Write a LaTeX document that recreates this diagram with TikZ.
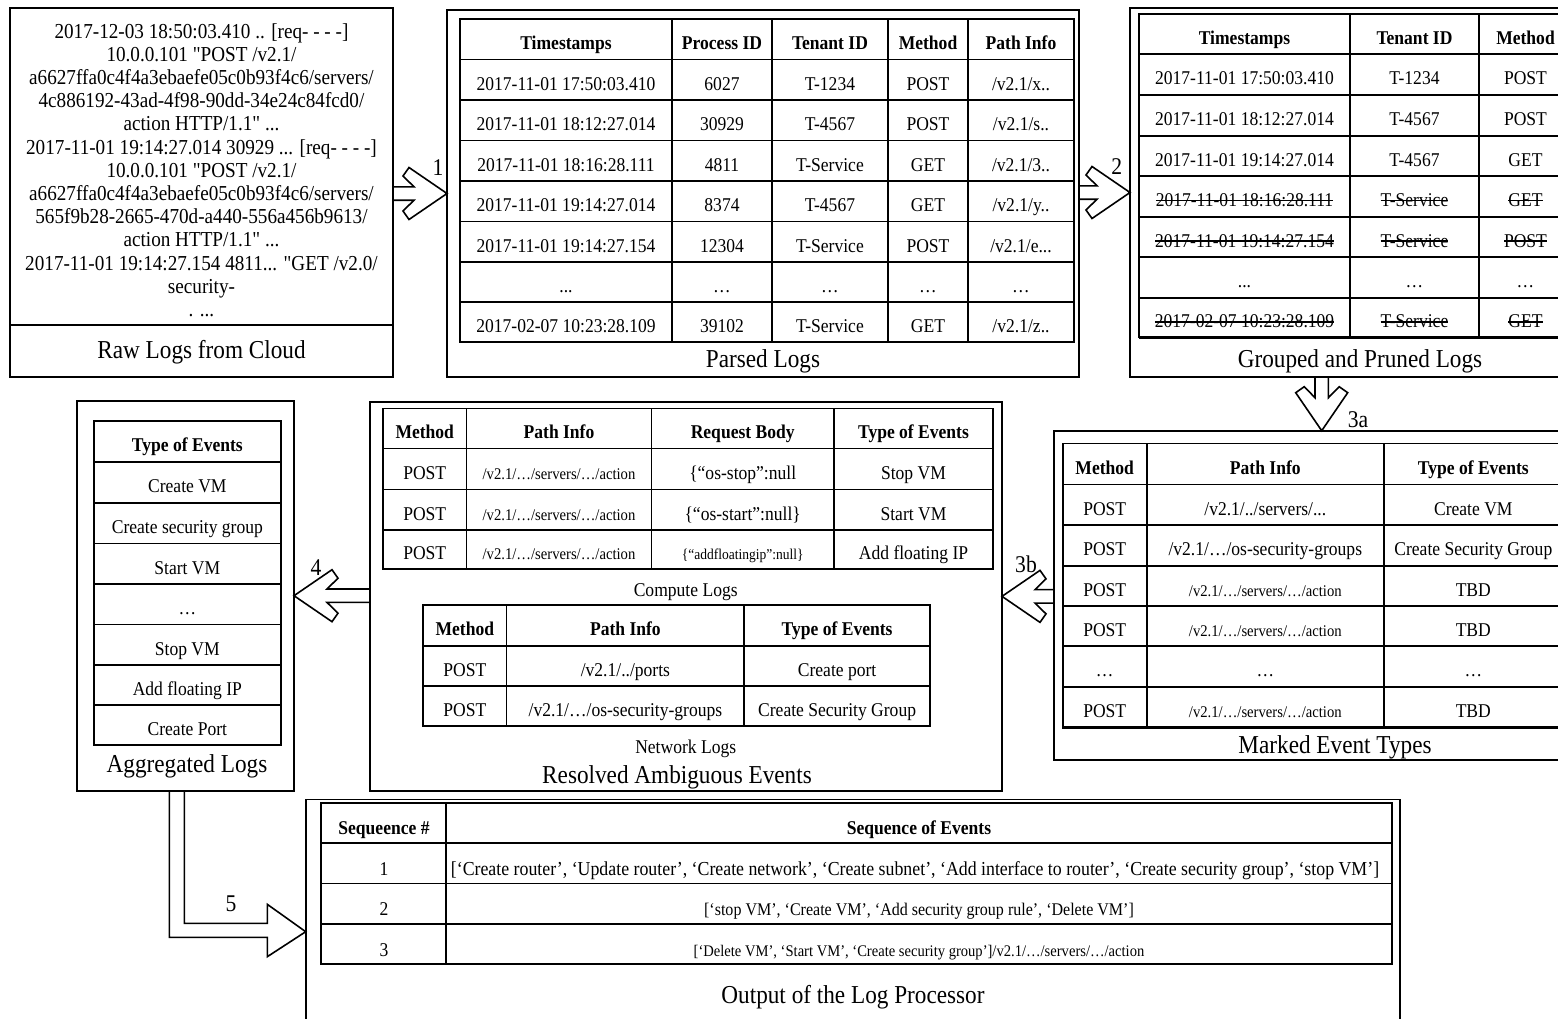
\documentclass[tikz,border=0pt]{standalone}
\usepackage{fontspec}
\setmainfont{Liberation Serif}[FakeStretch=0.9]
\newfontfamily\rawfont{Liberation Serif}[FakeStretch=0.9]
\usetikzlibrary{calc}
\newsavebox\strkbox
\newcommand{\strk}[1]{\sbox\strkbox{#1}\rlap{\rule[0.27em]{\wd\strkbox}{1.3pt}}\usebox\strkbox}
\newcommand{\smt}{\fontsize{16.3}{18}\selectfont}
\newcommand{\tnt}{\fontsize{15}{17}\selectfont}
\tikzset{
  boxnode/.style={draw, line width=1.6pt, inner sep=0pt, outer sep=0pt},
  gline/.style={line width=1.6pt},
  bline/.style={line width=2.6pt},
  cell/.style={font=\fontsize{19.5}{22}\selectfont, inner sep=0pt, text height=14.6pt, text depth=2.9pt, yshift=-4.5pt},
  hd/.style={cell, font=\fontsize{19.5}{22}\selectfont\bfseries},
  rawtxt/.style={font=\rawfont\fontsize{21.3}{24}\selectfont, inner sep=0pt, text height=16pt, text depth=3.2pt},
  captxt/.style={font=\fontsize{25.8}{28}\selectfont, inner sep=0pt, text height=19.4pt, text depth=3.9pt},
  lbl/.style={font=\fontsize{24}{26}\selectfont, inner sep=0pt},
  arrline/.style={line width=1.6pt, line join=miter},
}
\newcommand{\chev}[3]{\draw[arrline, shift={#1}, rotate=#2] (-#3,6.7) -- (-33,6.7) -- (-44,17.5) -- (-38,26) -- (0,0) -- (-38,-26) -- (-44,-17.5) -- (-33,-6.7) -- (-#3,-6.7);}
\newcommand{\rawline}[2]{\node[rawtxt] (rl-#1) at (201.5,{31.7+(#1-1)*23.2}) {#2};}
\newcommand{\plrow}[8]{%
  \node[#1] (pl-#2-1) at (566,#3) {#4};
  \node[#1] (pl-#2-2) at (722,#3) {#5};
  \node[#1] (pl-#2-3) at (830,#3) {#6};
  \node[#1] (pl-#2-4) at (928,#3) {#7};
  \node[#1] (pl-#2-5) at (1021,#3) {#8};}
\newcommand{\glrow}[6]{%
  \node[#1] (gl-#2-1) at (1244.5,#3) {#4};
  \node[#1] (gl-#2-2) at (1414.5,#3) {#5};
  \node[#1] (gl-#2-3) at (1525.5,#3) {#6};}
\newcommand{\merow}[6]{%
  \node[#1] (me-#2-1) at (1104.7,#3) {#4};
  \node[#1] (me-#2-2) at (1265.3,#3) {#5};
  \node[#1] (me-#2-3) at (1473.3,#3) {#6};}
\newcommand{\carow}[7]{%
  \node[#1] (ca-#2-1) at (424.75,#3) {#4};
  \node[#1] (ca-#2-2) at (559,#3) {#5};
  \node[#1] (ca-#2-3) at (742.7,#3) {#6};
  \node[#1] (ca-#2-4) at (913.5,#3) {#7};}
\newcommand{\narow}[6]{%
  \node[#1] (na-#2-1) at (464.8,#3) {#4};
  \node[#1] (na-#2-2) at (625.4,#3) {#5};
  \node[#1] (na-#2-3) at (837.1,#3) {#6};}
\newcommand{\agrow}[4]{\node[#1] (ag-#2) at (187.35,#3) {#4};}
\begin{document}
\begin{tikzpicture}[x=1pt,y=-1pt]
\useasboundingbox (0,0) rectangle (1558,1018);
\clip (0,0) rectangle (1558,1018);

% ---------- Raw logs ----------
\node[boxnode, anchor=north west, minimum width=383pt, minimum height=369pt] (rl) at (10,8) {};
\draw[gline] (10,325) -- (393,325);
\rawline{1}{2017-12-03 18:50:03.410 .. [req- - - -]}
\rawline{2}{10.0.0.101 "POST /v2.1/}
\rawline{3}{a6627ffa0c4f4a3ebaefe05c0b93f4c6/servers/}
\rawline{4}{4c886192-43ad-4f98-90dd-34e24c84fcd0/}
\rawline{5}{action HTTP/1.1" ...}
\rawline{6}{2017-11-01 19:14:27.014 30929 ... [req- - - -]}
\rawline{7}{10.0.0.101 "POST /v2.1/}
\rawline{8}{a6627ffa0c4f4a3ebaefe05c0b93f4c6/servers/}
\rawline{9}{565f9b28-2665-470d-a440-556a456b9613/}
\rawline{10}{action HTTP/1.1" ...}
\rawline{11}{2017-11-01 19:14:27.154 4811... "GET /v2.0/}
\rawline{12}{security-}
\rawline{13}{. ...}
\node[captxt] (rl-cap) at (201.5,351) {Raw Logs from Cloud};

% ---------- Parsed logs ----------
\node[boxnode, anchor=north west, minimum width=632pt, minimum height=367pt] (pl) at (447,10) {};
\draw[gline] (460,19) rectangle (1074,342);
\foreach \x in {672,772,888,968} \draw[gline] (\x,19) -- (\x,342);
\foreach \y in {59.5,100,140.5,181,221.5,262,302} \draw[gline] (460,\y) -- (1074,\y);
\draw[bline] (460,342) -- (1074,342);
\plrow{hd}{0}{39.25}{Timestamps}{Process ID}{Tenant ID}{Method}{Path Info}
\plrow{cell}{1}{79.75}{2017-11-01 17:50:03.410}{6027}{T-1234}{POST}{/v2.1/x..}
\plrow{cell}{2}{120.25}{2017-11-01 18:12:27.014}{30929}{T-4567}{POST}{/v2.1/s..}
\plrow{cell}{3}{160.75}{2017-11-01 18:16:28.111}{4811}{T-Service}{GET}{/v2.1/3..}
\plrow{cell}{4}{201.25}{2017-11-01 19:14:27.014}{8374}{T-4567}{GET}{/v2.1/y..}
\plrow{cell}{5}{241.75}{2017-11-01 19:14:27.154}{12304}{T-Service}{POST}{/v2.1/e...}
\plrow{cell}{6}{282}{...}{…}{…}{…}{…}
\plrow{cell}{7}{322}{2017-02-07 10:23:28.109}{39102}{T-Service}{GET}{/v2.1/z..}
\node[captxt] (pl-cap) at (763,360) {Parsed Logs};

% ---------- Grouped and pruned ----------
\node[boxnode, anchor=north west, minimum width=470pt, minimum height=369pt] (gl) at (1130,8) {};
\draw[gline] (1139,14) rectangle (1572,337.3);
\foreach \x in {1350,1479} \draw[gline] (\x,14) -- (\x,337.3);
\foreach \y in {54,95,135.7,175.7,216.7,256.7,297.7} \draw[gline] (1139,\y) -- (1572,\y);
\draw[bline] (1139,337.3) -- (1572,337.3);
\glrow{hd}{0}{34}{Timestamps}{Tenant ID}{Method}
\glrow{cell}{1}{74.5}{2017-11-01 17:50:03.410}{T-1234}{POST}
\glrow{cell}{2}{115.35}{2017-11-01 18:12:27.014}{T-4567}{POST}
\glrow{cell}{3}{155.7}{2017-11-01 19:14:27.014}{T-4567}{GET}
\glrow{cell}{4}{196.2}{\strk{2017-11-01 18:16:28.111}}{\strk{T-Service}}{\strk{GET}}
\glrow{cell}{5}{236.7}{\strk{2017-11-01 19:14:27.154}}{\strk{T-Service}}{\strk{POST}}
\glrow{cell}{6}{277.2}{...}{…}{…}
\glrow{cell}{7}{317.5}{\strk{2017-02-07 10:23:28.109}}{\strk{T-Service}}{\strk{GET}}
\node[captxt] (gl-cap) at (1360,360) {Grouped and Pruned Logs};

% ---------- Marked event types ----------
\node[boxnode, anchor=north west, minimum width=546pt, minimum height=329.3pt] (me) at (1054,430.7) {};
\draw[gline] (1062.7,443.3) rectangle (1562.7,727.7);
\foreach \x in {1146.7,1384} \draw[gline] (\x,443.3) -- (\x,727.7);
\foreach \y in {484.3,525,565.7,605.7,646,686.7} \draw[gline] (1062.7,\y) -- (1562.7,\y);
\draw[bline] (1062.7,727.7) -- (1562.7,727.7);
\merow{hd}{0}{463.8}{Method}{Path Info}{Type of Events}
\merow{cell}{1}{504.65}{POST}{/v2.1/../servers/...}{Create VM}
\merow{cell}{2}{545.35}{POST}{/v2.1/…/os-security-groups}{Create Security Group}
\merow{cell}{3}{585.7}{POST}{\smt /v2.1/…/servers/…/action}{TBD}
\merow{cell}{4}{625.85}{POST}{\smt /v2.1/…/servers/…/action}{TBD}
\merow{cell}{5}{666.35}{…}{…}{…}
\merow{cell}{6}{707.2}{POST}{\smt /v2.1/…/servers/…/action}{TBD}
\node[captxt] (me-cap) at (1335,746) {Marked Event Types};

% ---------- Resolved ambiguous events ----------
\node[boxnode, anchor=north west, minimum width=632pt, minimum height=389.3pt] (ra) at (370,401.7) {};
\draw[gline] (383,408.3) rectangle (993,569);
\foreach \x in {466.5,651.4,834} \draw[gline] (\x,408.3) -- (\x,569);
\foreach \y in {448.3,489.3,530} \draw[gline] (383,\y) -- (993,\y);
\draw[bline] (383,569) -- (993,569);
\carow{hd}{0}{428.3}{Method}{Path Info}{Request Body}{Type of Events}
\carow{cell}{1}{468.8}{POST}{\smt /v2.1/…/servers/…/action}{\{“os-stop”:null}{Stop VM}
\carow{cell}{2}{509.65}{POST}{\smt /v2.1/…/servers/…/action}{\{“os-start”:null\}}{Start VM}
\carow{cell}{3}{549.5}{POST}{\smt /v2.1/…/servers/…/action}{\tnt\{“addfloatingip”:null\}}{Add floating IP}
\node[cell] (ca-cap) at (685.7,586) {Compute Logs};
\draw[gline] (423,605) rectangle (930,726);
\foreach \x in {506.6,744.2} \draw[gline] (\x,605) -- (\x,726);
\foreach \y in {645.7,686} \draw[gline] (423,\y) -- (930,\y);
\draw[bline] (423,726) -- (930,726);
\narow{hd}{0}{625.35}{Method}{Path Info}{Type of Events}
\narow{cell}{1}{665.85}{POST}{/v2.1/../ports}{Create port}
\narow{cell}{2}{706}{POST}{/v2.1/…/os-security-groups}{Create Security Group}
\node[cell] (na-cap) at (685.7,743) {Network Logs};
\node[captxt] (ra-cap) at (677,776) {Resolved Ambiguous Events};

% ---------- Aggregated logs ----------
\node[boxnode, anchor=north west, minimum width=217pt, minimum height=390pt] (ag) at (77,400.7) {};
\draw[gline] (94,420.7) rectangle (280.7,745);
\foreach \y in {461.7,502.7,543.3,584,624.3,665,705} \draw[gline] (94,\y) -- (280.7,\y);
\draw[bline] (94,745) -- (280.7,745);
\agrow{hd}{0}{441.2}{Type of Events}
\agrow{cell}{1}{482.2}{Create VM}
\agrow{cell}{2}{523}{Create security group}
\agrow{cell}{3}{563.65}{Start VM}
\agrow{cell}{4}{604.15}{…}
\agrow{cell}{5}{644.65}{Stop VM}
\agrow{cell}{6}{685}{Add floating IP}
\agrow{cell}{7}{725}{Create Port}
\node[captxt] (ag-cap) at (187,765) {Aggregated Logs};

% ---------- Output ----------
\node[boxnode, anchor=north west, minimum width=1094.3pt, minimum height=240pt] (op) at (305.7,799.3) {};
\draw[gline] (320.7,802.7) rectangle (1392,964);
\draw[gline] (445.7,802.7) -- (445.7,964);
\foreach \y in {842.7,883.3,924} \draw[gline] (320.7,\y) -- (1392,\y);
\draw[bline] (320.7,964) -- (1392,964);
\begin{scope}[every node/.append style={yshift=-1.8pt}]
\node[hd] (op-0-1) at (384,822.7) {Sequeence \#};
\node[hd] (op-0-2) at (919,822.7) {Sequence of Events};
\node[cell] (op-1-1) at (384,863) {1};
\node[cell, font=\fontsize{19.8}{22}\selectfont] (op-1-2) at (915,863) {[‘Create router’, ‘Update router’, ‘Create network’, ‘Create subnet’, ‘Add interface to router’, ‘Create security group’, ‘stop VM’]};
\node[cell] (op-2-1) at (384,903.7) {2};
\node[cell, font=\fontsize{17.8}{20}\selectfont] (op-2-2) at (919,903.7) {[‘stop VM’, ‘Create VM’, ‘Add security group rule’, ‘Delete VM’]};
\node[cell] (op-3-1) at (384,944) {3};
\node[cell, font=\fontsize{16.2}{18}\selectfont] (op-3-2) at (919,944) {[‘Delete VM’, ‘Start VM’, ‘Create security group’]/v2.1/…/servers/…/action};
\end{scope}
\node[captxt] (op-cap) at (853,996) {Output of the Log Processor};

% ---------- Arrows ----------
\chev{(pl.west)}{0}{54}
\node[lbl] (n1) at (438,168) {1};
\chev{(gl.west)}{0}{51}
\node[lbl] (n2) at (1116.7,166.7) {2};
\coordinate (t3a) at ($(me.north west)+(267.7,0)$);
\chev{(t3a)}{-90}{54}
\node[lbl] (n3a) at (1358,420) {3a};
\chev{(ra.east)}{180}{52}
\node[lbl] (n3b) at (1026,564) {3b};
\chev{(ag.east)}{180}{76}
\node[lbl] (n4) at (316,568) {4};
\coordinate (t5) at ($(op.north west)+(0,132.4)$);
\coordinate (s5) at ($(ag.south west)+(92.3,0)$);
\draw[arrline] (s5) -- ++(0,146.6) -- ++(98,0) -- ++(0,19.4) -- (t5) -- ++(-38.4,-27.4) -- ++(0,19) -- ++(-83,0) -- ++(0,-132.6);
\node[lbl] (n5) at (231,904) {5};
\end{tikzpicture}
\end{document}
